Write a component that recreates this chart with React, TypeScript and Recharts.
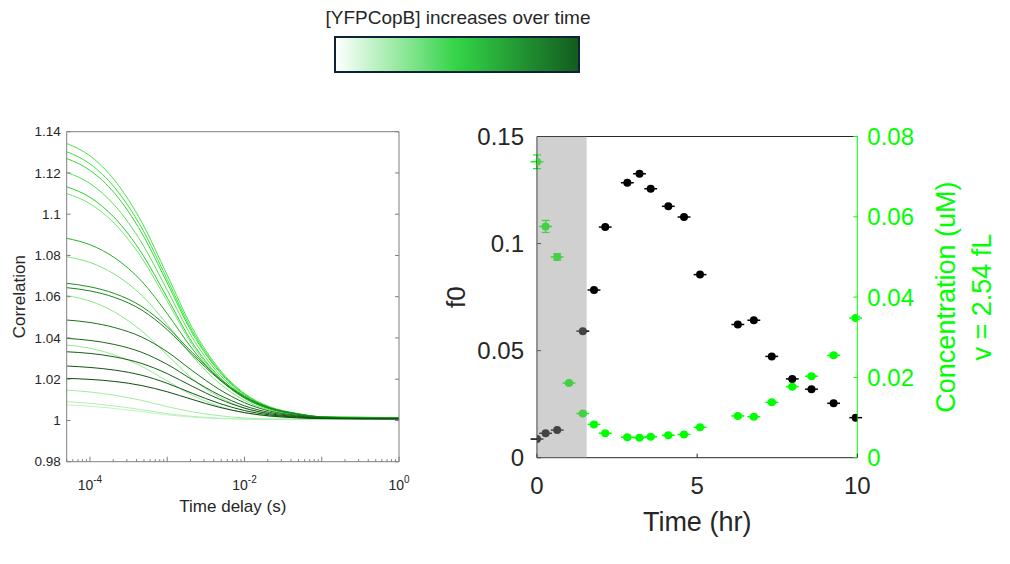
import React from "react";
import {
  LineChart,
  Line,
  XAxis,
  YAxis,
  ComposedChart,
  Scatter,
  ErrorBar,
  ReferenceArea,
} from "recharts";

const FONT = '"Liberation Sans", Arial, Helvetica, sans-serif';
const INK = "#262626";
const FRAME = "#7f7f7f";
const GREEN = "#00ff00";

// ---------- left panel: autocorrelation traces ----------
const lagTimes = [5e-5, 1e-4, 2.1e-4, 4.7e-4, 1e-3, 2.1e-3, 4.7e-3, 1e-2, 2.1e-2, 4.7e-2, 0.1, 0.32, 1];

const lagTicks = [
  5e-5, 6e-5, 7e-5, 8e-5, 9e-5,
  1e-4, 2e-4, 3e-4, 4e-4, 5e-4, 6e-4, 7e-4, 8e-4, 9e-4,
  1e-3, 2e-3, 3e-3, 4e-3, 5e-3, 6e-3, 7e-3, 8e-3, 9e-3,
  1e-2, 2e-2, 3e-2, 4e-2, 5e-2, 6e-2, 7e-2, 8e-2, 9e-2,
  0.1, 0.2, 0.3, 0.4, 0.5, 0.6, 0.7, 0.8, 0.9, 1,
];

const corrTicks = [0.98, 1, 1.02, 1.04, 1.06, 1.08, 1.1, 1.12, 1.14];

// one trace per acquisition, earliest first
const traces = [
  [1.0075, 1.0069, 1.0058, 1.0043, 1.0027, 1.0016, 1.0009, 1.0006, 1.0004, 1.0005, 1.0004, 1.0006, 1.0005],
  [1.0091, 1.0083, 1.007, 1.0052, 1.0033, 1.002, 1.0011, 1.0007, 1.0005, 1.0006, 1.0005, 1.0007, 1.0006],
  [1.0147, 1.0138, 1.0122, 1.0097, 1.0067, 1.0042, 1.0023, 1.0012, 1.0007, 1.0007, 1.0006, 1.0008, 1.0007],
  [1.0366, 1.035, 1.0317, 1.0262, 1.0192, 1.0123, 1.0069, 1.0037, 1.002, 1.0013, 1.0009, 1.001, 1.0008],
  [1.0606, 1.0579, 1.0525, 1.0433, 1.0318, 1.0203, 1.0114, 1.006, 1.0031, 1.0018, 1.0011, 1.0012, 1.001],
  [1.0794, 1.0766, 1.0708, 1.0606, 1.0466, 1.0313, 1.0181, 1.0097, 1.0051, 1.0027, 1.0014, 1.0012, 1.0011],
  [1.11, 1.1051, 1.0953, 1.0787, 1.0578, 1.0368, 1.0206, 1.0108, 1.0056, 1.003, 1.0016, 1.0013, 1.0012],
  [1.1203, 1.1149, 1.1042, 1.086, 1.0632, 1.0403, 1.0225, 1.0118, 1.0061, 1.0032, 1.0017, 1.0014, 1.0012],
  [1.1343, 1.1283, 1.1163, 1.096, 1.0705, 1.045, 1.025, 1.0131, 1.0067, 1.0035, 1.0018, 1.0015, 1.0013],
  [1.1303, 1.1244, 1.1128, 1.0932, 1.0684, 1.0436, 1.0243, 1.0127, 1.0065, 1.0033, 1.0017, 1.0016, 1.0012],
  [1.127, 1.1213, 1.11, 1.0908, 1.0667, 1.0425, 1.0237, 1.0124, 1.0064, 1.0033, 1.0018, 1.0013, 1.0013],
  [1.1133, 1.1082, 1.0981, 1.081, 1.0595, 1.0379, 1.0212, 1.0111, 1.0057, 1.0031, 1.0016, 1.0014, 1.0012],
  [1.0883, 1.0852, 1.0788, 1.0674, 1.0518, 1.0348, 1.0201, 1.0108, 1.0057, 1.003, 1.0016, 1.0013, 1.0011],
  [1.0665, 1.0648, 1.0615, 1.0552, 1.0454, 1.033, 1.0205, 1.0117, 1.0062, 1.0033, 1.0017, 1.0012, 1.0011],
  [1.0644, 1.0628, 1.0596, 1.0535, 1.044, 1.032, 1.0199, 1.0113, 1.006, 1.0031, 1.0016, 1.0011, 1.001],
  [1.0487, 1.0475, 1.045, 1.0404, 1.0333, 1.0242, 1.0151, 1.0086, 1.0046, 1.0025, 1.0014, 1.001, 1.001],
  [1.0398, 1.0388, 1.0368, 1.033, 1.0272, 1.0198, 1.0124, 1.0071, 1.0039, 1.0022, 1.0012, 1.0009, 1.0009],
  [1.0333, 1.0325, 1.0308, 1.0276, 1.0227, 1.0166, 1.0104, 1.006, 1.0033, 1.0019, 1.0011, 1.0009, 1.0008],
  [1.0264, 1.0257, 1.0244, 1.0219, 1.018, 1.0132, 1.0083, 1.0048, 1.0027, 1.0016, 1.001, 1.0008, 1.0008],
  [1.0204, 1.0199, 1.0189, 1.0169, 1.0139, 1.0102, 1.0064, 1.0038, 1.0022, 1.0013, 1.0009, 1.0008, 1.0007],
];

// white -> green -> dark green, same order as traces
const traceColors = [
  "#c4f3c4", "#b2efb2", "#a2eca2", "#95ea95", "#88e888", "#7ae67a", "#6fe86f",
  "#52e452", "#44e644", "#3be23b", "#30dc30", "#29d029", "#25b025",
  "#1f8f1f", "#1c7f1c", "#1a721a", "#186618", "#165c16", "#145314", "#124a12",
];

const traceRows = lagTimes.map((lag, j) => {
  const row: Record<string, number> = { lag };
  traces.forEach((tr, i) => {
    row[`g${i}`] = tr[j];
  });
  return row;
});

// ---------- right panel: f0 and concentration over time ----------
const timeHr = [0, 0.27, 0.63, 1.0, 1.43, 1.78, 2.13, 2.82, 3.2, 3.55, 4.1, 4.59, 5.09, 6.27, 6.77, 7.33, 7.97, 8.57, 9.26, 9.95];
const timeErr = [0.2, 0.2, 0.2, 0.2, 0.2, 0.2, 0.2, 0.2, 0.2, 0.2, 0.2, 0.2, 0.2, 0.2, 0.2, 0.2, 0.2, 0.2, 0.2, 0.2];
const f0Values = [0.0087, 0.0114, 0.0129, null, 0.0591, 0.0783, 0.1077, 0.1284, 0.1326, 0.1256, 0.1174, 0.1124, 0.0855, 0.0622, 0.0642, 0.0473, 0.0368, 0.032, 0.0254, 0.0187];
const concValues = [0.0737, 0.0576, 0.05, 0.0186, 0.011, 0.0083, 0.0061, 0.0051, 0.005, 0.0052, 0.0056, 0.0058, 0.0076, 0.0104, 0.0102, 0.0138, 0.0177, 0.0203, 0.0255, 0.0348];
const concErr = [0.0017, 0.0015, 0.0008, 0.0004, 0.0003, 0.0003, 0.0002, 0.0002, 0.0002, 0.0002, 0.0002, 0.0002, 0.0002, 0.0003, 0.0003, 0.0003, 0.0003, 0.0003, 0.0004, 0.0004];
const shadeEndHr = 1.55;

const timeTicks = [0, 5, 10];
const f0Ticks = [0, 0.05, 0.1, 0.15];
const concTicks = [0, 0.02, 0.04, 0.06, 0.08];

const f0Points = timeHr
  .map((t, i) => ({ t, f0: f0Values[i], tErr: timeErr[i] }))
  .filter((p) => p.f0 !== null);
const concPoints = timeHr.map((t, i) => ({ t, conc: concValues[i], tErr: timeErr[i], cErr: concErr[i] }));

// ---------- tick renderers (ticks point into the plot box) ----------
type Side = "left" | "right" | "bottom" | "top";

const valueTick =
  (side: Side, o: { len: number; stroke: string; fontSize?: number; fill?: string; gap?: number; labels?: boolean }) =>
  (props: any) => {
    const { x, y, payload } = props;
    const v = payload.value as number;
    const len = o.len;
    let line: React.ReactNode;
    let label: React.ReactNode = null;
    const txt = { fontSize: o.fontSize, fill: o.fill, fontFamily: FONT } as const;
    if (side === "left") {
      line = <line x1={x} x2={x + len} y1={y} y2={y} stroke={o.stroke} />;
      if (o.labels) label = <text x={x - (o.gap ?? 6)} y={y} dy="0.35em" textAnchor="end" {...txt}>{String(v)}</text>;
    } else if (side === "right") {
      line = <line x1={x} x2={x - len} y1={y} y2={y} stroke={o.stroke} />;
      if (o.labels) label = <text x={x + (o.gap ?? 6)} y={y} dy="0.35em" textAnchor="start" {...txt}>{String(v)}</text>;
    } else if (side === "bottom") {
      line = <line x1={x} x2={x} y1={y} y2={y - len} stroke={o.stroke} />;
      if (o.labels) label = <text x={x} y={y + (o.gap ?? 20)} textAnchor="middle" {...txt}>{String(v)}</text>;
    } else {
      line = <line x1={x} x2={x} y1={y} y2={y + len} stroke={o.stroke} />;
    }
    return (
      <g>
        {line}
        {label}
      </g>
    );
  };

const logTick = (side: "bottom" | "top") => (props: any) => {
  const { x, y, payload } = props;
  const p = Math.log10(payload.value as number);
  const e = Math.round(p);
  const major = Math.abs(p - e) < 1e-6;
  const len = major ? 5 : 2.5;
  const dir = side === "bottom" ? -1 : 1;
  return (
    <g>
      <line x1={x} x2={x} y1={y} y2={y + dir * len} stroke={FRAME} />
      {side === "bottom" && major && e % 2 === 0 && (
        <text x={x} y={y + 28} textAnchor="middle" fontSize={14} fill={INK} fontFamily={FONT}>
          10
          <tspan dy={-7} fontSize={10}>
            {e}
          </tspan>
        </text>
      )}
    </g>
  );
};

const rotatedLabel =
  (lines: { text: string; dx: number }[], fontSize: number, fill: string) =>
  (props: any) => {
    const vb = props.viewBox;
    const cy = vb.y + vb.height / 2;
    return (
      <g>
        {lines.map((l) => {
          const cx = vb.x + l.dx;
          return (
            <text
              key={l.text}
              x={cx}
              y={cy}
              transform={`rotate(-90 ${cx} ${cy})`}
              textAnchor="middle"
              fontSize={fontSize}
              fill={fill}
              fontFamily={FONT}
            >
              {l.text}
            </text>
          );
        })}
      </g>
    );
  };

const bottomLabel = (text: string, dy: number, fontSize: number) => (props: any) => {
  const vb = props.viewBox;
  return (
    <text x={vb.x + vb.width / 2} y={vb.y + dy} textAnchor="middle" fontSize={fontSize} fill={INK} fontFamily={FONT}>
      {text}
    </text>
  );
};

const dot = (fill: string) => (p: any) => <circle cx={p.cx} cy={p.cy} r={4} fill={fill} />;

function ColorKey() {
  return (
    <>
      <div
        style={{
          position: "absolute",
          left: 258,
          top: 7,
          width: 400,
          textAlign: "center",
          fontSize: 19,
          color: INK,
          fontFamily: FONT,
        }}
      >
        [YFPCopB] increases over time
      </div>
      <div
        style={{
          position: "absolute",
          left: 334,
          top: 36,
          width: 246,
          height: 37,
          boxSizing: "border-box",
          border: "2px solid #0e2436",
          background: "linear-gradient(to right, #ffffff, #33d447 50%, #135c1f)",
        }}
      />
    </>
  );
}

function CorrelationPanel() {
  return (
    <LineChart
      width={420}
      height={420}
      data={traceRows}
      margin={{ top: 20.7, right: 20, left: 0, bottom: 18.3 }}
      style={{ fontFamily: FONT }}
    >
      <XAxis
        xAxisId="b"
        dataKey="lag"
        type="number"
        scale="log"
        domain={[5e-5, 1]}
        allowDataOverflow
        ticks={lagTicks}
        interval={0}
        tickSize={0}
        tickMargin={0}
        tickLine={false}
        axisLine={{ stroke: FRAME }}
        height={50}
        tick={logTick("bottom")}
        label={bottomLabel("Time delay (s)", 50, 17)}
      />
      <XAxis
        xAxisId="t"
        orientation="top"
        type="number"
        scale="log"
        domain={[5e-5, 1]}
        allowDataOverflow
        ticks={lagTicks}
        interval={0}
        tickSize={0}
        tickMargin={0}
        tickLine={false}
        axisLine={{ stroke: FRAME }}
        height={1}
        tick={logTick("top")}
      />
      <YAxis
        yAxisId="l"
        type="number"
        domain={[0.98, 1.14]}
        allowDataOverflow
        ticks={corrTicks}
        interval={0}
        tickSize={0}
        tickMargin={0}
        tickLine={false}
        axisLine={{ stroke: FRAME }}
        width={66.7}
        tick={valueTick("left", { len: 4, stroke: FRAME, fontSize: 13.5, fill: INK, gap: 6, labels: true })}
        label={rotatedLabel([{ text: "Correlation", dx: 25 }], 17, INK)}
      />
      <YAxis
        yAxisId="r"
        orientation="right"
        type="number"
        domain={[0.98, 1.14]}
        allowDataOverflow
        ticks={corrTicks}
        interval={0}
        tickSize={0}
        tickMargin={0}
        tickLine={false}
        axisLine={{ stroke: FRAME }}
        width={1}
        tick={valueTick("right", { len: 4, stroke: FRAME })}
      />
      {traces.map((_, i) => (
        <Line
          key={i}
          xAxisId="b"
          yAxisId="l"
          dataKey={`g${i}`}
          type="monotone"
          stroke={traceColors[i]}
          strokeWidth={1}
          dot={false}
          activeDot={false}
          isAnimationActive={false}
        />
      ))}
    </LineChart>
  );
}

function TimeCoursePanel() {
  return (
    <ComposedChart
      width={580}
      height={440}
      margin={{ top: 25.5, right: 0, left: 0, bottom: 12.3 }}
      style={{ fontFamily: FONT }}
    >
      <XAxis
        xAxisId="b"
        dataKey="t"
        type="number"
        domain={[0, 10]}
        allowDataOverflow
        ticks={timeTicks}
        interval={0}
        tickSize={0}
        tickMargin={0}
        tickLine={false}
        axisLine={{ stroke: INK }}
        height={80}
        tick={valueTick("bottom", { len: 4, stroke: INK, fontSize: 24, fill: INK, gap: 36, labels: true })}
        label={bottomLabel("Time (hr)", 73, 27)}
      />
      <XAxis
        xAxisId="t"
        orientation="top"
        type="number"
        domain={[0, 10]}
        allowDataOverflow
        ticks={timeTicks}
        interval={0}
        tickSize={0}
        tickMargin={0}
        tickLine={false}
        axisLine={{ stroke: INK }}
        height={1}
        tick={valueTick("top", { len: 4, stroke: INK })}
      />
      <YAxis
        yAxisId="f0"
        dataKey="f0"
        type="number"
        domain={[0, 0.15]}
        allowDataOverflow
        ticks={f0Ticks}
        interval={0}
        tickSize={0}
        tickMargin={0}
        tickLine={false}
        axisLine={{ stroke: INK }}
        width={107}
        tick={valueTick("left", { len: 4, stroke: INK, fontSize: 24, fill: INK, gap: 13, labels: true })}
        label={rotatedLabel([{ text: "f0", dx: 35 }], 26, INK)}
      />
      <YAxis
        yAxisId="conc"
        dataKey="conc"
        orientation="right"
        type="number"
        domain={[0, 0.08]}
        allowDataOverflow
        ticks={concTicks}
        interval={0}
        tickSize={0}
        tickMargin={0}
        tickLine={false}
        axisLine={{ stroke: GREEN }}
        width={152.7}
        tick={valueTick("right", { len: 4, stroke: GREEN, fontSize: 24, fill: GREEN, gap: 10, labels: true })}
        label={rotatedLabel(
          [
            { text: "Concentration (uM)", dx: 97.7 },
            { text: "v = 2.54 fL", dx: 134 },
          ],
          27,
          GREEN
        )}
      />
      <Scatter
        data={f0Points}
        xAxisId="b"
        yAxisId="f0"
        fill="#000000"
        shape={dot("#000000")}
        isAnimationActive={false}
      >
        <ErrorBar dataKey="tErr" direction="x" width={0} stroke="#000000" strokeWidth={1.5} isAnimationActive={false} />
      </Scatter>
      <Scatter
        data={concPoints}
        xAxisId="b"
        yAxisId="conc"
        fill={GREEN}
        shape={dot(GREEN)}
        isAnimationActive={false}
      >
        <ErrorBar dataKey="tErr" direction="x" width={0} stroke={GREEN} strokeWidth={1.5} isAnimationActive={false} />
        <ErrorBar dataKey="cErr" direction="y" width={4} stroke={GREEN} strokeWidth={1.2} isAnimationActive={false} />
      </Scatter>
      <ReferenceArea
        xAxisId="b"
        yAxisId="f0"
        x1={0}
        x2={shadeEndHr}
        y1={0}
        y2={0.15}
        fill="#979797"
        fillOpacity={0.45}
        stroke="none"
        ifOverflow="visible"
        {...({ zIndex: 2000 } as any)}
      />
    </ComposedChart>
  );
}

export default function App() {
  return (
    <div
      style={{
        position: "absolute",
        left: 0,
        top: 0,
        width: 1010,
        height: 564,
        background: "#ffffff",
        fontFamily: FONT,
      }}
    >
      <ColorKey />
      <div style={{ position: "absolute", left: 0, top: 110 }}>
        <CorrelationPanel />
      </div>
      <div style={{ position: "absolute", left: 430, top: 110 }}>
        <TimeCoursePanel />
      </div>
    </div>
  );
}
